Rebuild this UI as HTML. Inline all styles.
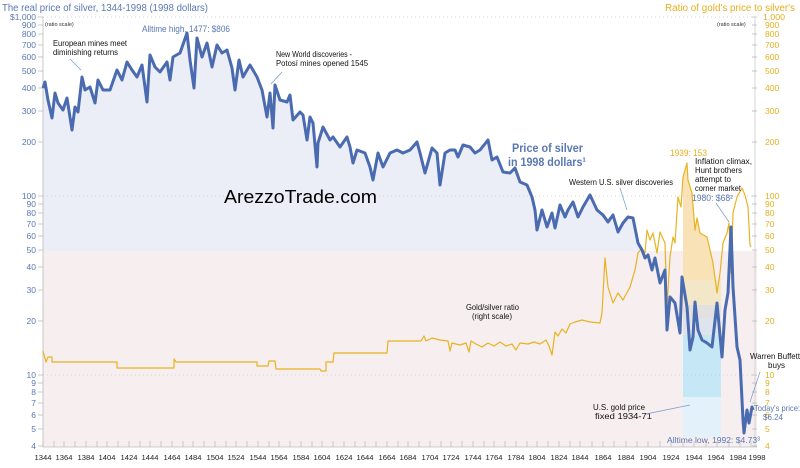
<!DOCTYPE html>
<html><head><meta charset="utf-8"><style>
html,body{margin:0;padding:0;background:#fff;}
svg{display:block;font-family:"Liberation Sans",sans-serif;}
.lb{fill:#5a78b4;font-size:8.5px;text-anchor:end;}
.rb{fill:#e6ae1e;font-size:8.5px;}
.yr{fill:#222;font-size:7px;text-anchor:middle;}
.an{fill:#111;font-size:8px;}
.bl{fill:#5a78b4;}
</style></head><body>
<svg width="800" height="468" viewBox="0 0 800 468" xmlns="http://www.w3.org/2000/svg">
<polygon fill="#eceef7" points="43,447 43,88 45,82 48,100 52,118 55,93 58,103 63,110 67,98 72,130 75,107 78,112 82,77 85,90 90,87 95,103 98,80 103,90 110,90 117,70 122,80 127,62 132,70 137,77 142,65 147,102 150,55 155,67 160,72 167,62 170,80 173,57 180,53 187,33 190,60 194,88 197,38 202,57 207,43 212,67 217,45 222,53 227,50 232,68 235,90 239,60 243,77 247,70 250,65 257,77 262,90 267,117 270,93 273,128 275,85 280,100 287,102 290,95 293,120 300,112 303,115 307,140 310,117 313,123 317,167 318,143 323,127 330,140 333,137 340,147 347,137 350,147 353,163 357,150 365,153 370,167 373,180 378,153 383,167 390,153 397,150 403,153 410,150 417,142 420,153 425,173 432,148 437,153 440,185 445,153 450,150 455,150 458,157 463,145 470,147 475,153 480,150 488,140 492,160 497,157 503,172 510,173 515,168 520,182 527,185 532,197 535,210 537,230 542,210 547,227 552,213 555,228 560,205 565,217 568,210 573,202 578,217 583,207 590,195 597,210 603,215 608,222 613,215 618,232 623,223 628,217 633,218 638,243 642,250 642,447"/>
<rect x="43" y="251" width="714" height="196" fill="#f6eeef"/>
<polygon fill="#f8e2b6" points="683,280 683,177 687,163 688,180 692,193 695,230 697,218 700,233 707,237 713,263 717,293 720,273 721,280"/>
<rect x="683" y="280" width="38" height="25" fill="#f3e7c8"/>
<rect x="683" y="305" width="38" height="13" fill="#e2e1e0"/>
<rect x="683" y="318" width="38" height="17" fill="#dde4ee"/>
<rect x="683" y="335" width="38" height="62" fill="#c6e7f6"/>
<rect x="683" y="397" width="38" height="40" fill="#e3f1fa"/>
<g stroke="#c8c8d0" stroke-width="0.7" stroke-dasharray="1,3">
<line x1="43" y1="17" x2="752" y2="17"/><line x1="43" y1="196" x2="752" y2="196"/><line x1="43" y1="375" x2="752" y2="375"/>
</g>
<line x1="43" y1="17" x2="43" y2="447" stroke="#bbb" stroke-width="0.8"/>
<line x1="755" y1="17" x2="755" y2="447" stroke="#ccc" stroke-width="0.8"/>
<line x1="43" y1="447" x2="757" y2="447" stroke="#bbb" stroke-width="0.8"/>
<g stroke="#bbb" stroke-width="0.8">
<line x1="38" y1="17" x2="43" y2="17"/><line x1="38" y1="25" x2="43" y2="25"/><line x1="38" y1="34" x2="43" y2="34"/><line x1="38" y1="45" x2="43" y2="45"/><line x1="38" y1="57" x2="43" y2="57"/><line x1="38" y1="71" x2="43" y2="71"/><line x1="38" y1="88" x2="43" y2="88"/><line x1="38" y1="111" x2="43" y2="111"/><line x1="38" y1="142" x2="43" y2="142"/><line x1="38" y1="196" x2="43" y2="196"/><line x1="38" y1="204" x2="43" y2="204"/><line x1="38" y1="213" x2="43" y2="213"/><line x1="38" y1="224" x2="43" y2="224"/><line x1="38" y1="236" x2="43" y2="236"/><line x1="38" y1="250" x2="43" y2="250"/><line x1="38" y1="267" x2="43" y2="267"/><line x1="38" y1="290" x2="43" y2="290"/><line x1="38" y1="321" x2="43" y2="321"/><line x1="38" y1="375" x2="43" y2="375"/><line x1="38" y1="383" x2="43" y2="383"/><line x1="38" y1="392" x2="43" y2="392"/><line x1="38" y1="403" x2="43" y2="403"/><line x1="38" y1="415" x2="43" y2="415"/><line x1="38" y1="429" x2="43" y2="429"/><line x1="38" y1="446" x2="43" y2="446"/>
<line x1="752" y1="17" x2="757" y2="17"/><line x1="752" y1="25" x2="757" y2="25"/><line x1="752" y1="34" x2="757" y2="34"/><line x1="752" y1="45" x2="757" y2="45"/><line x1="752" y1="57" x2="757" y2="57"/><line x1="752" y1="71" x2="757" y2="71"/><line x1="752" y1="88" x2="757" y2="88"/><line x1="752" y1="111" x2="757" y2="111"/><line x1="752" y1="142" x2="757" y2="142"/><line x1="752" y1="196" x2="757" y2="196"/><line x1="752" y1="204" x2="757" y2="204"/><line x1="752" y1="213" x2="757" y2="213"/><line x1="752" y1="224" x2="757" y2="224"/><line x1="752" y1="236" x2="757" y2="236"/><line x1="752" y1="250" x2="757" y2="250"/><line x1="752" y1="267" x2="757" y2="267"/><line x1="752" y1="290" x2="757" y2="290"/><line x1="752" y1="321" x2="757" y2="321"/><line x1="752" y1="375" x2="757" y2="375"/><line x1="752" y1="383" x2="757" y2="383"/><line x1="752" y1="392" x2="757" y2="392"/><line x1="752" y1="403" x2="757" y2="403"/><line x1="752" y1="415" x2="757" y2="415"/><line x1="752" y1="429" x2="757" y2="429"/><line x1="752" y1="446" x2="757" y2="446"/>
</g>
<g class="lb">
<text x="36" y="20">$1,000</text><text x="36" y="28">900</text><text x="36" y="37">800</text><text x="36" y="48">700</text><text x="36" y="60">600</text><text x="36" y="74">500</text><text x="36" y="91">400</text><text x="36" y="114">300</text><text x="36" y="145">200</text><text x="36" y="199">100</text><text x="36" y="207">90</text><text x="36" y="216">80</text><text x="36" y="227">70</text><text x="36" y="239">60</text><text x="36" y="253">50</text><text x="36" y="270">40</text><text x="36" y="293">30</text><text x="36" y="324">20</text><text x="36" y="378">10</text><text x="36" y="386">9</text><text x="36" y="395">8</text><text x="36" y="406">7</text><text x="36" y="418">6</text><text x="36" y="432">5</text><text x="36" y="449">4</text>
</g>
<g class="rb">
<text x="763" y="20" textLength="22" lengthAdjust="spacingAndGlyphs">1,000</text><text x="765" y="28">900</text><text x="765" y="37">800</text><text x="765" y="48">700</text><text x="765" y="60">600</text><text x="765" y="74">500</text><text x="765" y="91">400</text><text x="765" y="114">300</text><text x="765" y="145">200</text><text x="765" y="199">100</text><text x="765" y="207">90</text><text x="765" y="216">80</text><text x="765" y="227">70</text><text x="765" y="239">60</text><text x="765" y="253">50</text><text x="765" y="270">40</text><text x="765" y="293">30</text><text x="765" y="324">20</text><text x="765" y="378">10</text><text x="765" y="386">9</text><text x="765" y="395">8</text><text x="765" y="406">7</text><text x="765" y="418">6</text><text x="765" y="432">5</text><text x="765" y="449">4</text>
</g>
<g stroke="#bbb" stroke-width="0.7">
<line x1="43" y1="441" x2="43" y2="447"/><line x1="54" y1="441" x2="54" y2="447"/><line x1="64" y1="441" x2="64" y2="447"/><line x1="75" y1="441" x2="75" y2="447"/><line x1="86" y1="441" x2="86" y2="447"/><line x1="97" y1="441" x2="97" y2="447"/><line x1="107" y1="441" x2="107" y2="447"/><line x1="118" y1="441" x2="118" y2="447"/><line x1="129" y1="441" x2="129" y2="447"/><line x1="140" y1="441" x2="140" y2="447"/><line x1="150" y1="441" x2="150" y2="447"/><line x1="161" y1="441" x2="161" y2="447"/><line x1="172" y1="441" x2="172" y2="447"/><line x1="183" y1="441" x2="183" y2="447"/><line x1="193" y1="441" x2="193" y2="447"/><line x1="204" y1="441" x2="204" y2="447"/><line x1="215" y1="441" x2="215" y2="447"/><line x1="226" y1="441" x2="226" y2="447"/><line x1="236" y1="441" x2="236" y2="447"/><line x1="247" y1="441" x2="247" y2="447"/><line x1="258" y1="441" x2="258" y2="447"/><line x1="269" y1="441" x2="269" y2="447"/><line x1="279" y1="441" x2="279" y2="447"/><line x1="290" y1="441" x2="290" y2="447"/><line x1="301" y1="441" x2="301" y2="447"/><line x1="312" y1="441" x2="312" y2="447"/><line x1="322" y1="441" x2="322" y2="447"/><line x1="333" y1="441" x2="333" y2="447"/><line x1="344" y1="441" x2="344" y2="447"/><line x1="355" y1="441" x2="355" y2="447"/><line x1="365" y1="441" x2="365" y2="447"/><line x1="376" y1="441" x2="376" y2="447"/><line x1="387" y1="441" x2="387" y2="447"/><line x1="398" y1="441" x2="398" y2="447"/><line x1="408" y1="441" x2="408" y2="447"/><line x1="419" y1="441" x2="419" y2="447"/><line x1="430" y1="441" x2="430" y2="447"/><line x1="441" y1="441" x2="441" y2="447"/><line x1="451" y1="441" x2="451" y2="447"/><line x1="462" y1="441" x2="462" y2="447"/><line x1="473" y1="441" x2="473" y2="447"/><line x1="484" y1="441" x2="484" y2="447"/><line x1="494" y1="441" x2="494" y2="447"/><line x1="505" y1="441" x2="505" y2="447"/><line x1="516" y1="441" x2="516" y2="447"/><line x1="527" y1="441" x2="527" y2="447"/><line x1="537" y1="441" x2="537" y2="447"/><line x1="548" y1="441" x2="548" y2="447"/><line x1="559" y1="441" x2="559" y2="447"/><line x1="570" y1="441" x2="570" y2="447"/><line x1="580" y1="441" x2="580" y2="447"/><line x1="592" y1="441" x2="592" y2="447"/><line x1="603" y1="441" x2="603" y2="447"/><line x1="614" y1="441" x2="614" y2="447"/><line x1="626" y1="441" x2="626" y2="447"/><line x1="637" y1="441" x2="637" y2="447"/><line x1="648" y1="441" x2="648" y2="447"/><line x1="660" y1="441" x2="660" y2="447"/><line x1="671" y1="441" x2="671" y2="447"/><line x1="683" y1="441" x2="683" y2="447"/><line x1="694" y1="441" x2="694" y2="447"/><line x1="706" y1="441" x2="706" y2="447"/><line x1="717" y1="441" x2="717" y2="447"/><line x1="729" y1="441" x2="729" y2="447"/><line x1="740" y1="441" x2="740" y2="447"/><line x1="751" y1="441" x2="751" y2="447"/>
</g>
<g class="yr">
<text x="43" y="460" textLength="17" lengthAdjust="spacingAndGlyphs">1344</text><text x="64" y="460" textLength="17" lengthAdjust="spacingAndGlyphs">1364</text><text x="86" y="460" textLength="17" lengthAdjust="spacingAndGlyphs">1384</text><text x="107" y="460" textLength="17" lengthAdjust="spacingAndGlyphs">1404</text><text x="129" y="460" textLength="17" lengthAdjust="spacingAndGlyphs">1424</text><text x="150" y="460" textLength="17" lengthAdjust="spacingAndGlyphs">1444</text><text x="172" y="460" textLength="17" lengthAdjust="spacingAndGlyphs">1464</text><text x="193" y="460" textLength="17" lengthAdjust="spacingAndGlyphs">1484</text><text x="215" y="460" textLength="17" lengthAdjust="spacingAndGlyphs">1504</text><text x="236" y="460" textLength="17" lengthAdjust="spacingAndGlyphs">1524</text><text x="258" y="460" textLength="17" lengthAdjust="spacingAndGlyphs">1544</text><text x="279" y="460" textLength="17" lengthAdjust="spacingAndGlyphs">1564</text><text x="301" y="460" textLength="17" lengthAdjust="spacingAndGlyphs">1584</text><text x="322" y="460" textLength="17" lengthAdjust="spacingAndGlyphs">1604</text><text x="344" y="460" textLength="17" lengthAdjust="spacingAndGlyphs">1624</text><text x="365" y="460" textLength="17" lengthAdjust="spacingAndGlyphs">1644</text><text x="387" y="460" textLength="17" lengthAdjust="spacingAndGlyphs">1664</text><text x="408" y="460" textLength="17" lengthAdjust="spacingAndGlyphs">1684</text><text x="430" y="460" textLength="17" lengthAdjust="spacingAndGlyphs">1704</text><text x="451" y="460" textLength="17" lengthAdjust="spacingAndGlyphs">1724</text><text x="473" y="460" textLength="17" lengthAdjust="spacingAndGlyphs">1744</text><text x="494" y="460" textLength="17" lengthAdjust="spacingAndGlyphs">1764</text><text x="516" y="460" textLength="17" lengthAdjust="spacingAndGlyphs">1784</text><text x="537" y="460" textLength="17" lengthAdjust="spacingAndGlyphs">1804</text><text x="559" y="460" textLength="17" lengthAdjust="spacingAndGlyphs">1824</text><text x="580" y="460" textLength="17" lengthAdjust="spacingAndGlyphs">1844</text><text x="603" y="460" textLength="17" lengthAdjust="spacingAndGlyphs">1864</text><text x="626" y="460" textLength="17" lengthAdjust="spacingAndGlyphs">1884</text><text x="648" y="460" textLength="17" lengthAdjust="spacingAndGlyphs">1904</text><text x="671" y="460" textLength="17" lengthAdjust="spacingAndGlyphs">1924</text><text x="694" y="460" textLength="17" lengthAdjust="spacingAndGlyphs">1944</text><text x="716" y="460" textLength="17" lengthAdjust="spacingAndGlyphs">1964</text><text x="738" y="460" textLength="17" lengthAdjust="spacingAndGlyphs">1984</text><text x="757" y="460" textLength="17" lengthAdjust="spacingAndGlyphs">1998</text>
</g>
<polyline fill="none" stroke="#e8b322" stroke-width="1.2" stroke-linejoin="round" points="43,351 46,362 48,357 52,357 52,362 117,362 117,368 174,368 174,359 176,362 257,362 257,366 268,366 269,361 275,361 276,369 320,369 321,371 326,371 326,362 333,362 334,353 387,353 388,341 421,341 424,336 426,341 432,338 440,340 448,341 450,351 452,343 460,345 466,343 469,352 471,341 476,344 482,347 488,343 494,346 500,342 506,346 512,344 516,350 520,343 528,344 534,342 540,344 546,340 549,346 552,355 555,332 558,336 562,329 566,333 570,324 575,322 582,320 590,322 600,323 602,313 605,258 608,287 613,303 618,293 623,300 630,287 635,270 638,253 642,248 645,253 647,230 650,240 653,233 657,253 660,232 665,243 667,307 670,257 673,237 675,243 678,197 681,207 683,177 687,163 688,180 692,193 695,230 697,218 700,233 707,237 713,263 717,293 720,273 723,243 727,233 729,223 731,273 733,213 737,197 742,188 745,195 748,207 750,245 751,247"/>
<polyline fill="none" stroke="#4a6bb0" stroke-width="3" stroke-linejoin="round" points="43,88 45,82 48,100 52,118 55,93 58,103 63,110 67,98 72,130 75,107 78,112 82,77 85,90 90,87 95,103 98,80 103,90 110,90 117,70 122,80 127,62 132,70 137,77 142,65 147,102 150,55 155,67 160,72 167,62 170,80 173,57 180,53 187,33 190,60 194,88 197,38 202,57 207,43 212,67 217,45 222,53 227,50 232,68 235,90 239,60 243,77 247,70 250,65 257,77 262,90 267,117 270,93 273,128 275,85 280,100 287,102 290,95 293,120 300,112 303,115 307,140 310,117 313,123 317,167 318,143 323,127 330,140 333,137 340,147 347,137 350,147 353,163 357,150 365,153 370,167 373,180 378,153 383,167 390,153 397,150 403,153 410,150 417,142 420,153 425,173 432,148 437,153 440,185 445,153 450,150 455,150 458,157 463,145 470,147 475,153 480,150 488,140 492,160 497,157 503,172 510,173 515,168 520,182 527,185 532,197 535,210 537,230 542,210 547,227 552,213 555,228 560,205 565,217 568,210 573,202 578,217 583,207 590,195 597,210 603,215 608,222 613,215 618,232 623,223 628,217 633,218 638,243 642,250 645,258 648,255 652,270 655,258 660,283 665,270 667,330 670,297 675,303 680,333 682,277 687,307 690,350 693,337 695,302 698,330 702,340 707,343 712,347 717,303 722,357 725,310 728,293 731,227 733,287 737,347 740,360 743,420 744,433 747,410 749,423 752,407 753,410"/>
<text x="2" y="11" class="bl" font-size="10" textLength="206" lengthAdjust="spacingAndGlyphs">The real price of silver, 1344-1998 (1998 dollars)</text>
<text x="665" y="11" fill="#e6ae1e" font-size="10" textLength="130" lengthAdjust="spacingAndGlyphs">Ratio of gold's price to silver's</text>
<text x="45" y="26" font-size="5.5" fill="#333">(ratio scale)</text>
<text x="717" y="26" font-size="5.5" fill="#333">(ratio scale)</text>
<text x="53" y="46" class="an" textLength="74" lengthAdjust="spacingAndGlyphs">European mines meet</text>
<text x="53" y="55" class="an" textLength="65" lengthAdjust="spacingAndGlyphs">diminishing returns</text>
<line x1="70" y1="59" x2="81" y2="70" stroke="#7a9acb" stroke-width="0.7"/>
<text x="142" y="32" class="bl" font-size="9" textLength="88" lengthAdjust="spacingAndGlyphs">Alltime high, 1477: $806</text>
<text x="276" y="57" class="an" textLength="76" lengthAdjust="spacingAndGlyphs">New World discoveries -</text>
<text x="276" y="66" class="an" textLength="92" lengthAdjust="spacingAndGlyphs">Potosí mines opened 1545</text>
<line x1="282" y1="72" x2="271" y2="84" stroke="#7a9acb" stroke-width="0.7"/>
<text x="512" y="152" class="bl" font-size="12" font-weight="bold" textLength="71" lengthAdjust="spacingAndGlyphs">Price of silver</text>
<text x="508" y="166" class="bl" font-size="12" font-weight="bold" textLength="78" lengthAdjust="spacingAndGlyphs">in 1998 dollars¹</text>
<text x="569" y="185" class="an" textLength="104" lengthAdjust="spacingAndGlyphs">Western U.S. silver discoveries</text>
<line x1="620" y1="188" x2="627" y2="210" stroke="#7a9acb" stroke-width="0.7"/>
<text x="670" y="156" fill="#e6ae1e" font-size="9" textLength="37" lengthAdjust="spacingAndGlyphs">1939: 153</text>
<text x="695" y="164" class="an" textLength="57" lengthAdjust="spacingAndGlyphs">Inflation climax,</text>
<text x="695" y="173" class="an" textLength="47" lengthAdjust="spacingAndGlyphs">Hunt brothers</text>
<text x="695" y="182" class="an" textLength="36" lengthAdjust="spacingAndGlyphs">attempt to</text>
<text x="695" y="191" class="an" textLength="46" lengthAdjust="spacingAndGlyphs">corner market</text>
<text x="692" y="201" class="bl" font-size="9" textLength="41" lengthAdjust="spacingAndGlyphs">1980: $68²</text>
<line x1="716" y1="203" x2="729" y2="222" stroke="#7a9acb" stroke-width="0.7"/>
<text x="224" y="203" fill="#000" font-size="18" textLength="153" lengthAdjust="spacingAndGlyphs">ArezzoTrade.com</text>
<text x="466" y="310" class="an" textLength="53" lengthAdjust="spacingAndGlyphs">Gold/silver ratio</text>
<text x="472" y="319" class="an" fill="#333" textLength="40" lengthAdjust="spacingAndGlyphs">(right scale)</text>
<text x="750" y="359" class="an" textLength="50" lengthAdjust="spacingAndGlyphs">Warren Buffett</text>
<text x="768" y="368" class="an" textLength="17" lengthAdjust="spacingAndGlyphs">buys</text>
<line x1="760" y1="372" x2="750" y2="402" stroke="#7a9acb" stroke-width="0.7"/>
<text x="754" y="411" class="bl" font-size="8.5" textLength="46" lengthAdjust="spacingAndGlyphs">Today's price:</text>
<text x="763" y="420" class="bl" font-size="8.5" textLength="20" lengthAdjust="spacingAndGlyphs">$6.24</text>
<text x="593" y="410" class="an" textLength="52" lengthAdjust="spacingAndGlyphs">U.S. gold price</text>
<text x="595" y="419" class="an" textLength="57" lengthAdjust="spacingAndGlyphs">fixed 1934-71</text>
<line x1="646" y1="414" x2="690" y2="405" stroke="#7a9acb" stroke-width="0.7"/>
<text x="667" y="443" class="bl" font-size="8.5" textLength="93" lengthAdjust="spacingAndGlyphs">Alltime low, 1992: $4.73³</text>
</svg>
</body></html>
